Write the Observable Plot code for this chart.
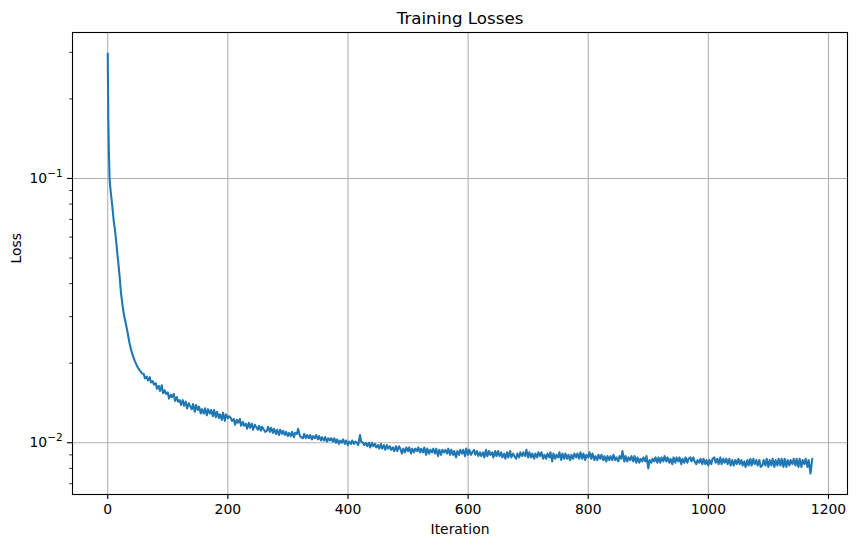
<!DOCTYPE html>
<html>
<head>
<meta charset="utf-8">
<script src="https://cdn.jsdelivr.net/npm/d3@7"></script>
<script src="https://cdn.jsdelivr.net/npm/@observablehq/plot@0.6"></script>
<style>
  html, body { margin: 0; padding: 0; background: white; }
</style>
</head>
<body>
<div id="chart"></div>
<script>
const title = "Training Losses";
const xLabel = "Iteration";
const yLabel = "Loss";

const xTicks = [0, 200, 400, 600, 800, 1000, 1200];
const yMajorTicks = [0.01, 0.1];
const yMajorLabels = ["10^\u22122", "10^\u22121"];
const yMinorTicks = [0.007, 0.008, 0.009, 0.02, 0.03, 0.04, 0.05, 0.06, 0.07, 0.08, 0.09, 0.2, 0.3];

const iterations = [
  0, 1, 2, 3, 4, 5, 6, 7, 8, 9, 10, 12, 14, 16, 18, 20, 22, 24, 26, 28, 30, 33, 36, 39, 42, 45, 48, 51, 54, 57,
  60, 62, 65, 67, 70, 72, 75, 77, 80, 82, 85, 87, 90, 92, 95, 97, 100, 102, 105, 107,
  110, 112, 115, 117, 120, 122, 125, 127, 130, 132, 135, 137, 140, 142, 145, 147, 150, 152, 155, 157,
  160, 162, 165, 167, 170, 172, 175, 177, 180, 182, 185, 187, 190, 192, 195, 197, 200, 202, 205, 207,
  210, 212, 215, 217, 220, 222, 225, 227, 230, 232, 235, 237, 240, 242, 245, 247, 250, 252, 255, 257,
  260, 262, 265, 267, 270, 272, 275, 277, 280, 282, 285, 287, 290, 292, 295, 297, 300, 302, 305, 307,
  310, 312, 315, 317, 320, 322, 325, 327, 330, 332, 335, 337, 340, 342, 345, 347, 350, 352, 355, 357,
  360, 362, 365, 367, 370, 372, 375, 377, 380, 382, 385, 387, 390, 392, 395, 397, 400, 402, 405, 407,
  410, 412, 415, 417, 420, 422, 425, 427, 430, 432, 435, 437, 440, 442, 445, 447, 450, 452, 455, 457,
  460, 462, 465, 467, 470, 472, 475, 477, 480, 482, 485, 487, 490, 492, 495, 497, 500, 502, 505, 507,
  510, 512, 515, 517, 520, 522, 525, 527, 530, 532, 535, 537, 540, 542, 545, 547, 550, 552, 555, 557,
  560, 562, 565, 567, 570, 572, 575, 577, 580, 582, 585, 587, 590, 592, 595, 597, 600, 602, 605, 607,
  610, 612, 615, 617, 620, 622, 625, 627, 630, 632, 635, 637, 640, 642, 645, 647, 650, 652, 655, 657,
  660, 662, 665, 667, 670, 672, 675, 677, 680, 682, 685, 687, 690, 692, 695, 697, 700, 702, 705, 707,
  710, 712, 715, 717, 720, 722, 725, 727, 730, 732, 735, 737, 740, 742, 745, 747, 750, 752, 755, 757,
  760, 762, 765, 767, 770, 772, 775, 777, 780, 782, 785, 787, 790, 792, 795, 797, 800, 802, 805, 807,
  810, 812, 815, 817, 820, 822, 825, 827, 830, 832, 835, 837, 840, 842, 845, 847, 850, 852, 855, 857,
  860, 862, 865, 867, 870, 872, 875, 877, 880, 882, 885, 887, 890, 892, 895, 897, 900, 902, 905, 907,
  910, 912, 915, 917, 920, 922, 925, 927, 930, 932, 935, 937, 940, 942, 945, 947, 950, 952, 955, 957,
  960, 962, 965, 967, 970, 972, 975, 977, 980, 982, 985, 987, 990, 992, 995, 997, 1000, 1002, 1005, 1007,
  1010, 1012, 1015, 1017, 1020, 1022, 1025, 1027, 1030, 1032, 1035, 1037, 1040, 1042, 1045, 1047, 1050, 1052, 1055, 1057,
  1060, 1062, 1065, 1067, 1070, 1072, 1075, 1077, 1080, 1082, 1085, 1087, 1090, 1092, 1095, 1097, 1100, 1102, 1105, 1107,
  1110, 1112, 1115, 1117, 1120, 1122, 1125, 1127, 1130, 1132, 1135, 1137, 1140, 1142, 1145, 1147, 1150, 1152, 1155, 1157,
  1160, 1162, 1165, 1167, 1170, 1173
];

const losses = [
  0.297, 0.166, 0.125, 0.101, 0.094, 0.089, 0.085, 0.081, 0.077, 0.073, 0.069, 0.064, 0.058, 0.052, 0.047,
  0.042, 0.037, 0.034, 0.0315, 0.0297, 0.0283, 0.0262, 0.0240, 0.0224, 0.0213, 0.0204, 0.0197, 0.0191, 0.0187, 0.0183,
  0.0182, 0.0175, 0.0178, 0.0172, 0.0177, 0.0169, 0.0171, 0.0166, 0.0168, 0.0160, 0.0164, 0.0157, 0.0165, 0.0154, 0.0158, 0.0153, 0.0155, 0.0147, 0.0152, 0.0149,
  0.0153, 0.0144, 0.0149, 0.0143, 0.0145, 0.0139, 0.0145, 0.0138, 0.0143, 0.0135, 0.0141, 0.0138, 0.0134, 0.0140, 0.0131, 0.0139, 0.0133, 0.0137, 0.0129, 0.0134,
  0.0129, 0.0135, 0.0127, 0.0134, 0.0129, 0.0133, 0.0126, 0.0133, 0.0125, 0.0131, 0.0124, 0.0128, 0.0122, 0.0130, 0.0121, 0.0128, 0.0124, 0.0126, 0.0124, 0.0121,
  0.0123, 0.0117, 0.0122, 0.0119, 0.0123, 0.0116, 0.0120, 0.0116, 0.0118, 0.0113, 0.0119, 0.0114, 0.0118, 0.0112, 0.0117, 0.0115, 0.0112, 0.0116, 0.0111, 0.0115,
  0.0112, 0.0110, 0.0111, 0.0115, 0.0110, 0.0114, 0.0109, 0.0113, 0.0108, 0.0112, 0.0107, 0.0112, 0.0108, 0.0111, 0.0107, 0.0110, 0.0106, 0.0109, 0.0106, 0.0110,
  0.0105, 0.0109, 0.0108, 0.0113, 0.0106, 0.0105, 0.0104, 0.0108, 0.0104, 0.0107, 0.0104, 0.0107, 0.0103, 0.0106, 0.0104, 0.0107, 0.0103, 0.0106, 0.0102, 0.0105,
  0.0102, 0.0105, 0.0101, 0.0104, 0.0102, 0.0104, 0.0101, 0.0104, 0.0100, 0.0103, 0.0099, 0.0102, 0.0100, 0.0103, 0.0099, 0.0102, 0.0098, 0.0101, 0.0099, 0.0102,
  0.0099, 0.0101, 0.0100, 0.0098, 0.0107, 0.0101, 0.0100, 0.0098, 0.0100, 0.0097, 0.0100, 0.0096, 0.0100, 0.0097, 0.0099, 0.0096, 0.0098, 0.0095, 0.0099, 0.0095,
  0.0098, 0.0094, 0.0098, 0.0095, 0.0097, 0.0094, 0.0096, 0.0093, 0.0097, 0.0093, 0.0097, 0.0095, 0.0091, 0.0095, 0.0092, 0.0096, 0.0093, 0.0096, 0.0091, 0.0095,
  0.0092, 0.0095, 0.0093, 0.0096, 0.0092, 0.0095, 0.0092, 0.0096, 0.0090, 0.0095, 0.0091, 0.0094, 0.0092, 0.0095, 0.0091, 0.0095, 0.0089, 0.0094, 0.0090, 0.0094,
  0.0092, 0.0094, 0.0091, 0.0095, 0.0090, 0.0094, 0.0090, 0.0093, 0.0088, 0.0093, 0.0090, 0.0094, 0.0091, 0.0094, 0.0089, 0.0095, 0.0090, 0.0094, 0.0090, 0.0092,
  0.0094, 0.0090, 0.0093, 0.0089, 0.0092, 0.0089, 0.0092, 0.0088, 0.0094, 0.0089, 0.0093, 0.0090, 0.0092, 0.0088, 0.0093, 0.0089, 0.0093, 0.0089, 0.0092, 0.0088,
  0.0091, 0.0087, 0.0092, 0.0088, 0.0093, 0.0088, 0.0091, 0.0089, 0.0087, 0.0091, 0.0088, 0.0092, 0.0089, 0.0092, 0.0089, 0.0094, 0.0088, 0.0092, 0.0088, 0.0091,
  0.0087, 0.0091, 0.0088, 0.0092, 0.0089, 0.0092, 0.0087, 0.0090, 0.0087, 0.0091, 0.0088, 0.0092, 0.0085, 0.0091, 0.0087, 0.0090, 0.0088, 0.0092, 0.0086, 0.0091,
  0.0087, 0.0091, 0.0087, 0.0090, 0.0086, 0.0090, 0.0087, 0.0091, 0.0088, 0.0091, 0.0087, 0.0092, 0.0087, 0.0091, 0.0086, 0.0090, 0.0088, 0.0092, 0.0087, 0.0091,
  0.0086, 0.0089, 0.0086, 0.0090, 0.0087, 0.0090, 0.0086, 0.0089, 0.0085, 0.0089, 0.0086, 0.0089, 0.0086, 0.0090, 0.0086, 0.0088, 0.0085, 0.0089, 0.0087, 0.0093,
  0.0085, 0.0089, 0.0085, 0.0088, 0.0086, 0.0089, 0.0085, 0.0089, 0.0084, 0.0088, 0.0084, 0.0087, 0.0085, 0.0088, 0.0085, 0.0089, 0.0080, 0.0086, 0.0084, 0.0087,
  0.0085, 0.0088, 0.0084, 0.0088, 0.0084, 0.0088, 0.0085, 0.0089, 0.0085, 0.0088, 0.0084, 0.0087, 0.0083, 0.0088, 0.0084, 0.0088, 0.0085, 0.0088, 0.0083, 0.0087,
  0.0084, 0.0088, 0.0084, 0.0087, 0.0088, 0.0085, 0.0088, 0.0085, 0.0083, 0.0086, 0.0084, 0.0087, 0.0083, 0.0087, 0.0083, 0.0086, 0.0082, 0.0086, 0.0083, 0.0087,
  0.0088, 0.0084, 0.0087, 0.0083, 0.0088, 0.0083, 0.0087, 0.0084, 0.0087, 0.0083, 0.0087, 0.0082, 0.0086, 0.0082, 0.0086, 0.0083, 0.0087, 0.0083, 0.0086, 0.0082,
  0.0085, 0.0081, 0.0086, 0.0082, 0.0087, 0.0082, 0.0087, 0.0083, 0.0086, 0.0082, 0.0086, 0.0081, 0.0082, 0.0086, 0.0082, 0.0087, 0.0081, 0.0086, 0.0082, 0.0087,
  0.0081, 0.0086, 0.0082, 0.0087, 0.0082, 0.0087, 0.0081, 0.0087, 0.0081, 0.0086, 0.0082, 0.0086, 0.0083, 0.0087, 0.0082, 0.0087, 0.0081, 0.0087, 0.0081, 0.0086,
  0.0083, 0.0087, 0.0081, 0.0086, 0.00765, 0.0087
];

const data = iterations.map((it, i) => ({iter: it, loss: losses[i]}));

// matplotlib-style 5% autoscale margins (log space for y)
const [x0, x1] = d3.extent(iterations);
const xPad = (x1 - x0) * 0.05;
const [l0, l1] = d3.extent(losses).map(Math.log10);
const lPad = (l1 - l0) * 0.05;

const chart = Plot.plot({
  width: 857,
  height: 547,
  marginLeft: 72,
  marginRight: 10,
  marginTop: 32,
  marginBottom: 53,
  style: {fontFamily: "'DejaVu Sans', sans-serif", fontSize: "13.9px", background: "white", color: "black"},
  x: {domain: [x0 - xPad, x1 + xPad]},
  y: {type: "log", domain: [Math.pow(10, l0 - lPad), Math.pow(10, l1 + lPad)]},
  marks: [
    Plot.gridX(xTicks, {stroke: "#b0b0b0", strokeOpacity: 1, strokeWidth: 1.1}),
    Plot.gridY(yMajorTicks, {stroke: "#b0b0b0", strokeOpacity: 1, strokeWidth: 1.1}),
    Plot.line(data, {x: "iter", y: "loss", stroke: "#1f77b4", strokeWidth: 2.08, strokeLinejoin: "round"}),
    Plot.frame({stroke: "black", strokeWidth: 1.1}),
    Plot.axisX(xTicks, {anchor: "bottom", tickSize: 4.9, tickPadding: 4.9, strokeWidth: 1.1, tickFormat: d => String(d), label: null}),
    Plot.axisY(yMajorTicks, {anchor: "left", tickSize: 4.9, tickPadding: 4.9, strokeWidth: 1.1, tickFormat: d => yMajorLabels[yMajorTicks.indexOf(d)], label: null}),
    Plot.axisY(yMinorTicks, {anchor: "left", tickSize: 2.8, strokeWidth: 0.8, tickFormat: () => "", label: null}),
    Plot.text([title], {frameAnchor: "top", dy: -14, fontSize: 16.7, lineAnchor: "middle"}),
    Plot.text([xLabel], {frameAnchor: "bottom", dy: 35, lineAnchor: "middle"}),
    Plot.text([yLabel], {frameAnchor: "left", dx: -56, rotate: -90, lineAnchor: "middle"})
  ]
});

// render "10^−n" labels with a real superscript, like matplotlib's mathtext
chart.querySelectorAll("text").forEach(t => {
  const s = t.textContent;
  if (s.includes("^")) {
    const [base, exp] = s.split("^");
    t.textContent = base;
    const sup = document.createElementNS("http://www.w3.org/2000/svg", "tspan");
    sup.setAttribute("font-size", "10.5");
    sup.setAttribute("dy", "-6");
    sup.textContent = exp;
    t.appendChild(sup);
  }
});

document.getElementById("chart").appendChild(chart);
</script>
</body>
</html>
